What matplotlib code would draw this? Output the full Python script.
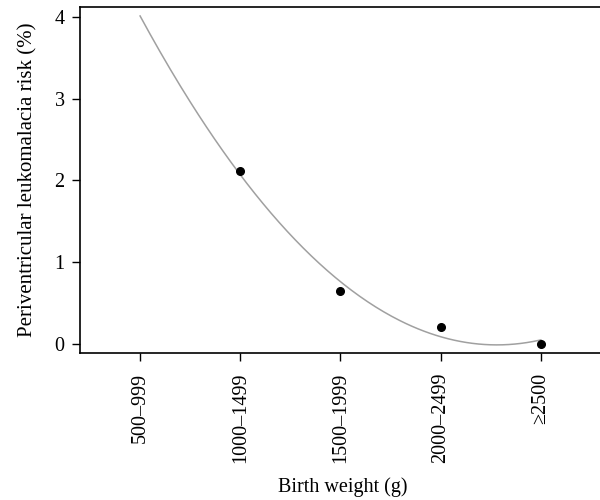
import numpy as np
import matplotlib
matplotlib.use("Agg")
import matplotlib.pyplot as plt

# birth weight groups and observed PVL risk (%)
groups = ['500\u2013999', '1000\u20131499', '1500\u20131999', '2000\u20132499', '\u22652500']
obs_idx = [1, 2, 3, 4]
obs_risk = [2.12, 0.65, 0.21, 0.0]

# points (used for a quadratic trend line)
curve_idx = [0, 1, 2, 3, 4]
curve_risk = [4.02, 2.05, 0.76, 0.11, 0.04]

plt.rcParams['font.family'] = ['Liberation Serif', 'DejaVu Serif']

fig = plt.figure(figsize=(6, 5), dpi=100)
# right edge of the box is cut off in the original
ax = fig.add_axes([0.1333, 0.294, 0.875, 0.692])

coef = np.polyfit(curve_idx, curve_risk, 2)
xs = np.linspace(0, 4, 200)
ax.plot(xs, np.polyval(coef, xs), color='#a0a0a0', lw=1.1)
ax.plot(obs_idx, obs_risk, 'o', color='black', ms=5.5)

ax.set_xlim(-0.6, 4.64)
ax.set_ylim(-0.11, 4.12)
ax.set_xticks(range(len(groups)))
ax.set_xticklabels(groups, rotation=90)
ax.set_yticks([0, 1, 2, 3, 4])
ax.tick_params(labelsize=14.5, length=6, width=1, direction='out', pad=5)
ax.tick_params(axis='x', pad=8)
for s in ax.spines.values():
    s.set_linewidth(1.2)

ax.set_xlabel('Birth weight (g)', fontsize=14.5, labelpad=10)
ax.set_ylabel('Periventricular leukomalacia risk (%)', fontsize=15, labelpad=12)

fig.savefig('out.png', dpi=100)
